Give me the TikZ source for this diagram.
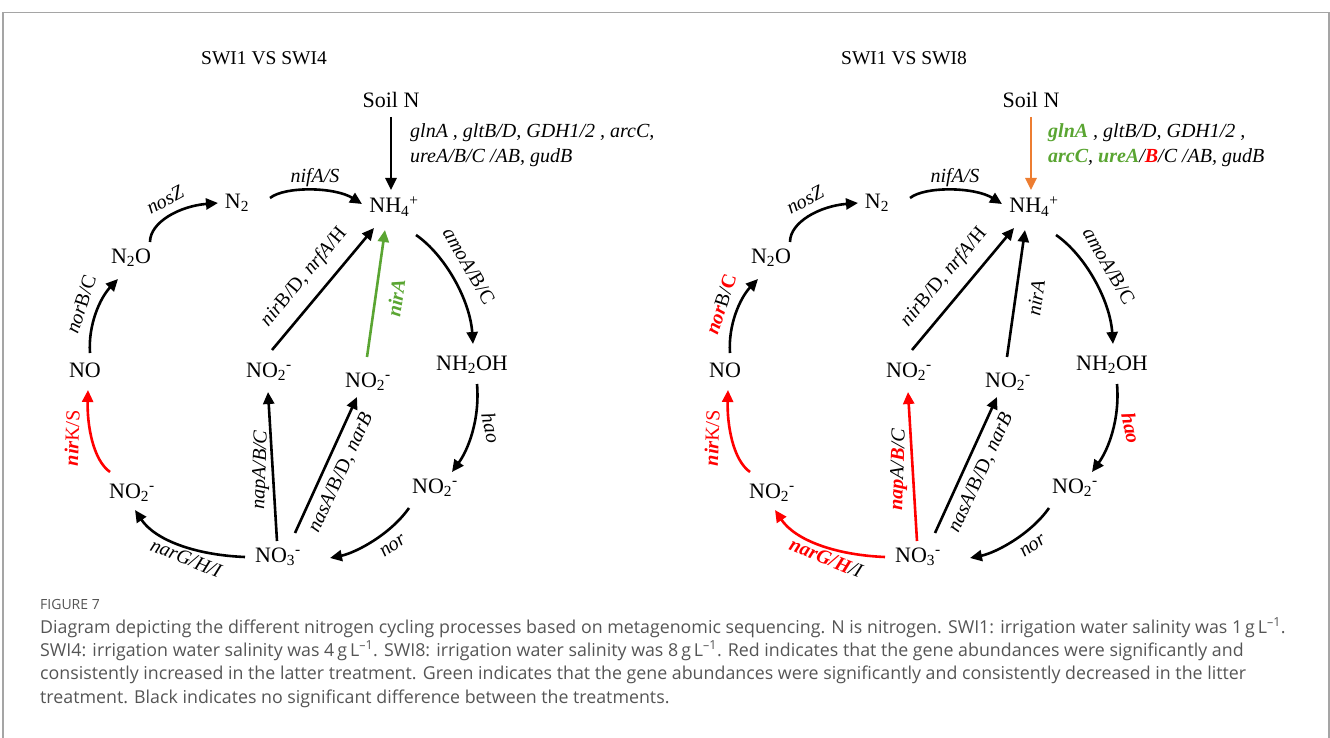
\documentclass[tikz,border=0pt]{standalone}
\usepackage{fontspec}
\setmainfont{Liberation Serif}
\newfontfamily\capfont{Open Sans}
\usetikzlibrary{arrows.meta,calc}
\definecolor{upred}{RGB}{255,0,0}
\definecolor{downgreen}{RGB}{90,165,50}
\definecolor{mixorange}{RGB}{237,125,49}
\definecolor{captiongray}{RGB}{85,85,85}
\definecolor{framegray}{RGB}{165,165,165}
% gene names: increased (red, bold) and decreased (green, bold)
\newcommand{\incr}[1]{\textcolor{upred}{\textbf{#1}}}
\newcommand{\decr}[1]{\textcolor{downgreen}{\textbf{#1}}}
\newcommand{\nitro}[2]{#1\textsubscript{#2}}
\tikzset{
  chem/.style={font=\fontsize{22}{26}\selectfont, inner sep=0pt, anchor=base},
  gene/.style={font=\fontsize{20}{24}\selectfont\itshape, inner sep=0pt},
  title/.style={font=\fontsize{19.5}{23}\selectfont, inner sep=0pt},
  flux/.style={line width=2.6pt, -{Triangle[length=12pt,width=11pt]}},
  caption/.style={font=\capfont\fontsize{17.8}{21}\selectfont, text=captiongray, inner sep=0pt, anchor=base west},
}
\begin{document}
\begin{tikzpicture}[x=1pt,y=-1pt]
\useasboundingbox (0,0) rectangle (1330,738);
% frame
\draw[framegray, line width=1.5pt] (3,745) -- (3,12.5) -- (1329,12.5) -- (1329,745);

% ---------------- SWI1 vs SWI4 ----------------
\node[title] (Ltitle) at (264,58) {SWI1 VS SWI4};
\node[chem] (Lsoil)  at (391,108) {Soil N};
\node[chem] (Lnh4)   at (394,213) {NH\textsubscript{4}\textsuperscript{+}};
\node[chem] (Ln2)    at (237,208) {\nitro{N}{2}};
\node[chem] (Ln2o)   at (131,263) {N\textsubscript{2}O};
\node[chem] (Lno)    at (85,377)  {NO};
\node[chem] (Lno2a)  at (132,498) {NO\textsubscript{2}\textsuperscript{-}};
\node[chem] (Lno3)   at (278,562) {NO\textsubscript{3}\textsuperscript{-}};
\node[chem] (Lno2b)  at (269,377) {NO\textsubscript{2}\textsuperscript{-}};
\node[chem] (Lno2c)  at (368,387) {NO\textsubscript{2}\textsuperscript{-}};
\node[chem] (Lnh2oh) at (472,370) {NH\textsubscript{2}OH};
\node[chem] (Lno2d)  at (435,493) {NO\textsubscript{2}\textsuperscript{-}};

\draw[flux] ($(Lsoil.base)+(0,9)$) -- ($(Lnh4.base)+(-3,-23)$);
\draw[flux] ($(Ln2.base)+(33,-10)$) .. controls (285,186) and (335,187) .. ($(Lnh4.base)+(-32,-9)$);
\draw[flux] ($(Ln2o.base)+(19,-21)$) .. controls (150,222) and (180,206) .. ($(Ln2.base)+(-19,-5)$);
\draw[flux] ($(Lno.base)+(5,-24)$) .. controls (88,325) and (100,298) .. ($(Ln2o.base)+(-13,16)$);
\draw[flux, upred] ($(Lno2a.base)+(-22,-26)$) .. controls (93,460) and (87,425) .. ($(Lno.base)+(3,13)$);
\draw[flux] ($(Lno3.base)+(-33,-5)$) .. controls (195,555) and (155,540) .. ($(Lno2a.base)+(3,12)$);
\draw[flux] ($(Lno3.base)+(-1,-21)$) -- ($(Lno2b.base)+(-1,15)$);
\draw[flux] ($(Lno3.base)+(17,-29)$) -- ($(Lno2c.base)+(-11,10)$);
\draw[flux] ($(Lno2b.base)+(3,-27)$) -- ($(Lnh4.base)+(-20,15)$);
\draw[flux, downgreen] ($(Lno2c.base)+(-1,-30)$) -- ($(Lnh4.base)+(-9,17)$);
\draw[flux] ($(Lnh4.base)+(22,22)$) .. controls (445,255) and (470,300) .. ($(Lnh2oh.base)+(1,-26)$);
\draw[flux] ($(Lnh2oh.base)+(5,14)$) .. controls (480,420) and (468,450) .. ($(Lno2d.base)+(17,-21)$);
\draw[flux] ($(Lno2d.base)+(-26,15)$) .. controls (390,535) and (355,553) .. ($(Lno3.base)+(52,-4)$);

\node[gene, anchor=base west] (Lgenea) at (410,138) {glnA , gltB/D, GDH1/2 , arcC,};
\node[gene, anchor=base west] (Lgeneb) at (410,163) {ureA/B/C /AB, gudB};
\node[gene] (Lnif) at (315,178) {nifA/S};
\node[gene, rotate=28] (Lnos) at (165,200) {nosZ};
\node[gene, rotate=72] (Lnor) at (81,304) {nor\textup{B/C}};
\node[gene, rotate=88] (Lnirk) at (72,438) {\incr{nir}\textcolor{upred}{\textup{K/S}}};
\node[gene, rotate=-22] (Lnar) at (186,558) {narG/H/I};
\node[gene, rotate=88] (Lnap) at (261,470) {napA/B/C};
\node[gene, rotate=65] (Lnas) at (341,473) {nasA\textup{/B/D,} narB};
\node[gene, rotate=50] (Lnirb) at (304,277) {nir\textup{B/D,} nrfA\textup{/H}};
\node[gene, rotate=82] (Lnira) at (396,298) {\decr{nirA}};
\node[gene, rotate=-60] (Lamo) at (469,266) {amoA\textup{/B/C}};
\node[gene, rotate=-78] (Lhao) at (491,428) {hao};
\node[gene, rotate=35] (Lnorx) at (393,546) {nor};

% ---------------- SWI1 vs SWI8 ----------------
\begin{scope}[xshift=640pt]
\node[title] (Rtitle) at (264,58) {SWI1 VS SWI8};
\node[chem] (Rsoil)  at (391,108) {Soil N};
\node[chem] (Rnh4)   at (394,213) {NH\textsubscript{4}\textsuperscript{+}};
\node[chem] (Rn2)    at (237,208) {\nitro{N}{2}};
\node[chem] (Rn2o)   at (131,263) {N\textsubscript{2}O};
\node[chem] (Rno)    at (85,377)  {NO};
\node[chem] (Rno2a)  at (132,498) {NO\textsubscript{2}\textsuperscript{-}};
\node[chem] (Rno3)   at (278,562) {NO\textsubscript{3}\textsuperscript{-}};
\node[chem] (Rno2b)  at (269,377) {NO\textsubscript{2}\textsuperscript{-}};
\node[chem] (Rno2c)  at (368,387) {NO\textsubscript{2}\textsuperscript{-}};
\node[chem] (Rnh2oh) at (472,370) {NH\textsubscript{2}OH};
\node[chem] (Rno2d)  at (435,493) {NO\textsubscript{2}\textsuperscript{-}};

\draw[flux, mixorange] ($(Rsoil.base)+(0,9)$) -- ($(Rnh4.base)+(-3,-23)$);
\draw[flux] ($(Rn2.base)+(33,-10)$) .. controls (285,186) and (335,187) .. ($(Rnh4.base)+(-32,-9)$);
\draw[flux] ($(Rn2o.base)+(19,-21)$) .. controls (150,222) and (180,206) .. ($(Rn2.base)+(-19,-5)$);
\draw[flux] ($(Rno.base)+(5,-24)$) .. controls (88,325) and (100,298) .. ($(Rn2o.base)+(-13,16)$);
\draw[flux, upred] ($(Rno2a.base)+(-22,-26)$) .. controls (93,460) and (87,425) .. ($(Rno.base)+(3,13)$);
\draw[flux, upred] ($(Rno3.base)+(-33,-5)$) .. controls (195,555) and (155,540) .. ($(Rno2a.base)+(3,12)$);
\draw[flux, upred] ($(Rno3.base)+(-1,-21)$) -- ($(Rno2b.base)+(-1,15)$);
\draw[flux] ($(Rno3.base)+(17,-29)$) -- ($(Rno2c.base)+(-11,10)$);
\draw[flux] ($(Rno2b.base)+(3,-27)$) -- ($(Rnh4.base)+(-20,15)$);
\draw[flux] ($(Rno2c.base)+(-1,-30)$) -- ($(Rnh4.base)+(-9,17)$);
\draw[flux] ($(Rnh4.base)+(22,22)$) .. controls (445,255) and (470,300) .. ($(Rnh2oh.base)+(1,-26)$);
\draw[flux] ($(Rnh2oh.base)+(5,14)$) .. controls (480,420) and (468,450) .. ($(Rno2d.base)+(17,-21)$);
\draw[flux] ($(Rno2d.base)+(-26,15)$) .. controls (390,535) and (355,553) .. ($(Rno3.base)+(52,-4)$);

\node[gene, anchor=base west] (Rgenea) at (408,138) {\decr{glnA} , gltB/D, GDH1/2 ,};
\node[gene, anchor=base west] (Rgeneb) at (408,163) {\decr{arcC}, \decr{ureA}/\incr{B}/C /AB, gudB};
\node[gene] (Rnif) at (315,178) {nifA/S};
\node[gene, rotate=28] (Rnos) at (165,200) {nosZ};
\node[gene, rotate=72] (Rnor) at (81,304) {\incr{nor}\textup{B/}\incr{\textup{C}}};
\node[gene, rotate=88] (Rnirk) at (72,438) {\incr{nir}\textcolor{upred}{\textup{K/S}}};
\node[gene, rotate=-22] (Rnar) at (186,558) {\incr{narG/H}/I};
\node[gene, rotate=88] (Rnap) at (259,470) {\incr{nap}A/\incr{B}/C};
\node[gene, rotate=65] (Rnas) at (341,473) {nasA\textup{/B/D,} narB};
\node[gene, rotate=50] (Rnirb) at (304,277) {nir\textup{B/D,} nrfA\textup{/H}};
\node[gene, rotate=82] (Rnira) at (396,298) {nirA};
\node[gene, rotate=-60] (Ramo) at (469,266) {amoA\textup{/B/C}};
\node[gene, rotate=-78] (Rhao) at (491,428) {\incr{hao}};
\node[gene, rotate=35] (Rnorx) at (393,546) {nor};
\end{scope}

% ---------------- caption ----------------
\node[caption, font=\capfont\fontsize{14}{16}\selectfont] (capfig) at (40,609) {FIGURE 7};
\node[caption] (cap1) at (40,633) {Diagram depicting the different nitrogen cycling processes based on metagenomic sequencing. N is nitrogen. SWI1: irrigation water salinity was 1\,g\,L\textsuperscript{–1}.};
\node[caption] (cap2) at (40,656) {SWI4: irrigation water salinity was 4\,g\,L\textsuperscript{–1}. SWI8: irrigation water salinity was 8\,g\,L\textsuperscript{–1}. Red indicates that the gene abundances were significantly and};
\node[caption] (cap3) at (40,679) {consistently increased in the latter treatment. Green indicates that the gene abundances were significantly and consistently decreased in the litter};
\node[caption] (cap4) at (40,703) {treatment. Black indicates no significant difference between the treatments.};
\end{tikzpicture}
\end{document}
